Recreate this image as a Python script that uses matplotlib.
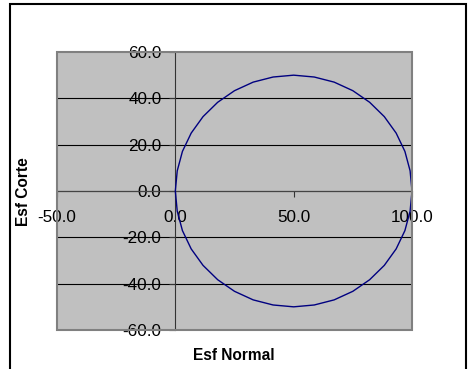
import matplotlib
matplotlib.use("Agg")
import matplotlib.pyplot as plt
from matplotlib.patches import Rectangle

plt.rcParams['font.family'] = ['Liberation Sans', 'DejaVu Sans']

# Circulo de Mohr
esf_normal = [100.0, 99.2, 97.0, 93.3, 88.3, 82.1, 75.0, 67.1, 58.7, 50.0,
              41.3, 32.9, 25.0, 17.9, 11.7, 6.7, 3.0, 0.8, 0.0,
              0.8, 3.0, 6.7, 11.7, 17.9, 25.0, 32.9, 41.3, 50.0,
              58.7, 67.1, 75.0, 82.1, 88.3, 93.3, 97.0, 99.2, 100.0]
esf_corte = [0.0, 8.7, 17.1, 25.0, 32.1, 38.3, 43.3, 47.0, 49.2, 50.0,
             49.2, 47.0, 43.3, 38.3, 32.1, 25.0, 17.1, 8.7, 0.0,
             -8.7, -17.1, -25.0, -32.1, -38.3, -43.3, -47.0, -49.2, -50.0,
             -49.2, -47.0, -43.3, -38.3, -32.1, -25.0, -17.1, -8.7, 0.0]

x_ticks = [-50, 0, 50, 100]
y_ticks = [-60, -40, -20, 0, 20, 40, 60]

fig = plt.figure(figsize=(4.71, 3.69), dpi=100)
ax = fig.add_axes([57 / 471, 1 - 330 / 369, 355 / 471, 278 / 369])
ax.set_facecolor('#c0c0c0')

ax.plot(esf_normal, esf_corte, color='#000080', linewidth=1.0, zorder=3)

ax.set_xlim(-50, 100)
ax.set_ylim(-60, 60)
ax.set_xticks(x_ticks)
ax.set_yticks(y_ticks)
ax.set_xticklabels([f'{v:.1f}' for v in x_ticks])
ax.set_yticklabels([f'{v:.1f}' for v in y_ticks])

# lineas de division horizontales
for v in y_ticks[1:-1]:
    ax.axhline(v, color='black', linewidth=0.8, zorder=1)

# ejes que cruzan en cero
ax.spines['left'].set_position(('data', 0))
ax.spines['bottom'].set_position(('data', 0))
ax.spines['left'].set_color('#333333')
ax.spines['bottom'].set_color('#444444')
ax.spines['left'].set_zorder(2)
ax.spines['bottom'].set_zorder(2)
ax.spines['top'].set_visible(False)
ax.spines['right'].set_visible(False)
ax.add_patch(Rectangle((0, 0), 1, 1, transform=ax.transAxes, fill=False,
                       edgecolor='#808080', linewidth=1.5, zorder=4,
                       clip_on=False))

ax.tick_params(axis='both', direction='out', length=4, width=0.8,
               colors='#333333', labelcolor='black', labelsize=12.3)
ax.tick_params(axis='x', pad=10)
ax.tick_params(axis='y', pad=6)
for lbl in ax.get_yticklabels():
    lbl.set_zorder(5)

fig.text(234 / 471, 1 - 356 / 369, 'Esf Normal', ha='center', va='center',
         fontsize=11.2, fontweight='bold')
fig.text(23 / 471, 1 - 192 / 369, 'Esf Corte', ha='center', va='center',
         rotation=90, fontsize=11.2, fontweight='bold')

# marco exterior
fig.patches.append(Rectangle((10 / 471, -0.1), 456 / 471, 1.1 - 4.5 / 369,
                             transform=fig.transFigure, fill=False,
                             edgecolor='black', linewidth=1.5))

fig.savefig('out.png', dpi=100)
